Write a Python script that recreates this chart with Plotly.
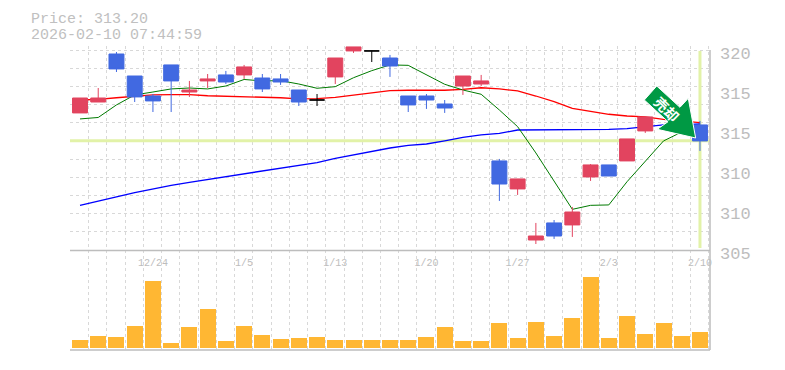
import plotly.graph_objects as go

W, H = 785, 370

# ---- data -------------------------------------------------------------
opens = [315.28, 316.10, 319.70, 318.05, 316.55, 318.88, 316.85, 317.68, 318.13, 318.13,
         317.90, 317.83, 317.00, None, 317.98, 319.93, None, 319.40, 316.55, 316.55,
         315.95, 317.30, 317.45, 311.68, 309.58, 305.75, 307.03, 306.88, 310.48, 311.38,
         311.68, 313.93, 315.50, 314.15, 314.38]
highs = [316.40, 317.15, 319.85, 318.05, 316.70, 318.88, 317.68, 318.20, 318.43, 318.88,
         318.20, 318.20, 317.00, None, 319.40, 320.23, None, 319.63, 316.55, 316.70,
         316.25, 318.05, 318.13, 311.83, 310.33, 307.03, 307.25, 308.23, 311.45, 311.38,
         313.33, 314.98, 316.25, 315.50, 314.68]
lows = [315.28, 316.10, 318.35, 316.10, 315.35, 315.35, 316.48, 317.15, 317.45, 317.83,
        316.85, 317.38, 315.80, None, 317.45, 319.78, None, 317.98, 315.35, 315.58,
        315.28, 316.63, 317.30, 308.68, 309.13, 305.45, 305.83, 305.98, 310.18, 310.55,
        311.68, 313.78, 315.50, 314.15, 312.43]
closes = [316.40, 316.40, 318.58, 316.48, 316.18, 317.68, 317.00, 317.83, 317.60, 318.73,
          317.08, 317.60, 316.10, None, 319.40, 320.23, None, 318.80, 315.88, 316.25,
          315.65, 318.05, 317.68, 309.95, 310.33, 306.05, 306.05, 307.85, 311.38, 310.55,
          313.33, 314.98, 316.25, 315.50, 313.18]
doji_index = [13, 16]
doji_open = [316.25, 319.93]
doji_high = [316.70, 319.93]
doji_low = [315.80, 319.10]
doji_close = [316.25, 319.93]

ma_short = [314.83, 314.94, 315.88, 316.63, 316.85, 317.08, 317.15, 317.08, 317.30, 317.79,
            317.68, 317.70, 317.45, 317.13, 317.25, 317.92, 318.45, 318.88, 318.85, 318.13,
            317.43, 317.00, 316.68, 315.50, 314.25, 312.28, 310.12, 308.05, 308.35, 308.38,
            310.12, 311.62, 313.18, 313.85, 314.38]
ma_mid = [316.25, 316.29, 316.42, 316.55, 316.63, 316.65, 316.65, 316.57, 316.53, 316.53,
          316.45, 316.42, 316.33, 316.35, 316.45, 316.60, 316.80, 316.95, 316.98, 316.98,
          316.98, 317.05, 317.17, 317.08, 316.93, 316.55, 316.12, 315.63, 315.40, 315.18,
          315.05, 314.98, 314.80, 314.68, 314.55]
ma_long = [308.35, 308.64, 308.98, 309.30, 309.58, 309.84, 310.08, 310.29, 310.51, 310.74,
           310.93, 311.11, 311.32, 311.56, 311.88, 312.13, 312.39, 312.65, 312.84, 312.95,
           313.18, 313.44, 313.63, 313.74, 314.00, 314.00, 314.02, 314.00, 314.05, 314.05,
           314.10, 314.25, 314.38, 314.38, 314.45]
volumes = [8, 12, 11, 22, 67, 5, 21, 39, 7, 22, 13, 9, 10, 11, 8, 8, 8, 8, 8, 11,
           21, 7, 7, 25, 10, 26, 12, 30, 71, 10, 32, 14, 25, 12, 16]

date_ticks = [4, 9, 14, 19, 24, 29, 34]
date_labels = ["12/24", "1/5", "1/13", "1/20", "1/27", "2/3", "2/10"]
price_ticks = [305, 308, 311, 314, 317, 320]
price_labels = ["305", "310", "310", "315", "315", "320"]
last_price = 313.20
title_lines = ["Price: 313.20", "2026-02-10 07:44:59"]
signal_text = "売却"

x = list(range(len(volumes)))

# ---- colours -----------------------------------------------------------
RED = "#e2445f"
BLUE = "#4169e1"
GREY = "#bdbdbd"
GRID = "#d8d8d8"
LIME = "#e2f2a8"
MONO = "Liberation Mono, DejaVu Sans Mono, monospace"

def px(a):
    return a / W

def py(b):
    return 1 - b / H

fig = go.Figure()
x_range = [-0.548, 34.55]
y_range = [305, 320.3]

# current price cross-hair
fig.add_trace(go.Scatter(x=x_range, y=[last_price, last_price], mode="lines",
                         line=dict(color=LIME, width=3), hoverinfo="skip",
                         showlegend=False, xaxis="x", yaxis="y"))
fig.add_trace(go.Scatter(x=[x[-1], x[-1]], y=[305.15, 319.93], mode="lines",
                         line=dict(color=LIME, width=3), hoverinfo="skip",
                         showlegend=False, xaxis="x", yaxis="y"))

for vals, col, lw in ((ma_long, "#0000ff", 1.3), (ma_mid, "#ff0000", 1.3), (ma_short, "#007a00", 1)):
    fig.add_trace(go.Scatter(x=x, y=vals, mode="lines", line=dict(color=col, width=lw),
                             hoverinfo="skip", showlegend=False, xaxis="x", yaxis="y"))

# candles live on an overlaid subplot so they are painted over the lines
fig.add_trace(go.Candlestick(
    x=x, open=opens, high=highs, low=lows, close=closes, whiskerwidth=0,
    increasing=dict(line=dict(color=RED, width=1), fillcolor=RED),
    decreasing=dict(line=dict(color=BLUE, width=1), fillcolor=BLUE),
    showlegend=False, xaxis="x3", yaxis="y3"))
fig.add_trace(go.Candlestick(
    x=doji_index, open=doji_open, high=doji_high, low=doji_low, close=doji_close, whiskerwidth=0,
    increasing=dict(line=dict(color="#000000", width=1), fillcolor="#000000"),
    decreasing=dict(line=dict(color="#000000", width=1), fillcolor="#000000"),
    showlegend=False, xaxis="x3", yaxis="y3"))

fig.add_trace(go.Bar(x=x, y=volumes, width=0.877, marker=dict(color="#ffb733", line=dict(width=0)),
                     showlegend=False, xaxis="x2", yaxis="y2"))

grid_minor = dict(tick0=-0.52, dtick=1, showgrid=True, gridcolor=GRID, griddash="3px,3px",
                  gridwidth=1, ticklen=0)

arrow = [(656.7, 86), (644.3, 100), (668, 121.7), (657.3, 129.3), (695.7, 138),
         (688.3, 98.3), (680, 107.3)]
arrow_path = "M " + " L ".join(f"{px(a):.4f},{py(b):.4f}" for a, b in arrow) + " Z"

fig.update_layout(
    width=W, height=H, autosize=False,
    margin=dict(l=0, r=0, t=0, b=0, pad=0, autoexpand=False),
    paper_bgcolor="white", plot_bgcolor="white",
    boxgap=0.18, boxgroupgap=0, boxmode="overlay", bargap=0,
    showlegend=False,
    xaxis=dict(domain=[px(70), px(710)], range=x_range, anchor="y",
               rangeslider=dict(visible=False),
               tickmode="array", tickvals=date_ticks, ticktext=date_labels,
               showgrid=False, zeroline=False, showline=False, ticks="", ticklen=0,
               ticklabelstandoff=5,
               tickfont=dict(family=MONO, size=10, color=GREY), minor=grid_minor),
    yaxis=dict(domain=[py(250), py(46)], range=y_range, anchor="x", side="right",
               tickmode="array", tickvals=price_ticks, ticktext=price_labels,
               showgrid=False, zeroline=False, showline=False, ticks="",
               ticklabelstandoff=9, ticklabelshift=3,
               tickfont=dict(family=MONO, size=17, color=GREY),
               minor=dict(tick0=305, dtick=15 / 11, showgrid=True, gridcolor=GRID,
                          griddash="3px,3px", gridwidth=1, ticklen=0)),
    xaxis2=dict(domain=[px(70), px(710)], range=x_range, anchor="y2",
                showticklabels=False, showgrid=False, zeroline=False, showline=False,
                ticks="", minor=grid_minor),
    yaxis2=dict(domain=[py(350), py(250)], range=[-2, 98], anchor="x2",
                showticklabels=False, showgrid=False, zeroline=False, showline=False, ticks=""),
    xaxis3=dict(overlaying="x", range=x_range, anchor="y3", visible=False,
                rangeslider=dict(visible=False)),
    yaxis3=dict(overlaying="y", range=y_range, anchor="x3", visible=False),
    shapes=[
        dict(type="line", xref="paper", yref="paper", x0=px(70), x1=px(710), y0=py(250.5), y1=py(250.5),
             line=dict(color=GREY, width=1.5)),
        dict(type="line", xref="paper", yref="paper", x0=px(70), x1=px(710), y0=py(350), y1=py(350),
             line=dict(color=GREY, width=1.5)),
        dict(type="line", xref="paper", yref="paper", x0=px(710), x1=px(710), y0=py(350), y1=py(50),
             line=dict(color=GREY, width=1.5)),
        dict(type="path", xref="paper", yref="paper", path=arrow_path,
             fillcolor="#009944", line=dict(color="white", width=1)),
    ],
    annotations=[
        dict(text=title_lines[0], xref="paper", yref="paper", x=px(29), y=py(19.5), xanchor="left",
             yanchor="middle", showarrow=False, font=dict(family=MONO, size=15, color="#c0c0c0")),
        dict(text=title_lines[1], xref="paper", yref="paper", x=px(29), y=py(35), xanchor="left",
             yanchor="middle", showarrow=False, font=dict(family=MONO, size=15, color="#c0c0c0")),
        dict(text=signal_text, xref="paper", yref="paper", x=px(667), y=py(109), textangle=45,
             xanchor="center", yanchor="middle", showarrow=False,
             font=dict(family="Noto Sans CJK JP", size=14, color="white", weight=700)),
    ],
)

fig.write_html("out.html", config=dict(displayModeBar=False),
               post_script="document.body.style.margin='0';")
